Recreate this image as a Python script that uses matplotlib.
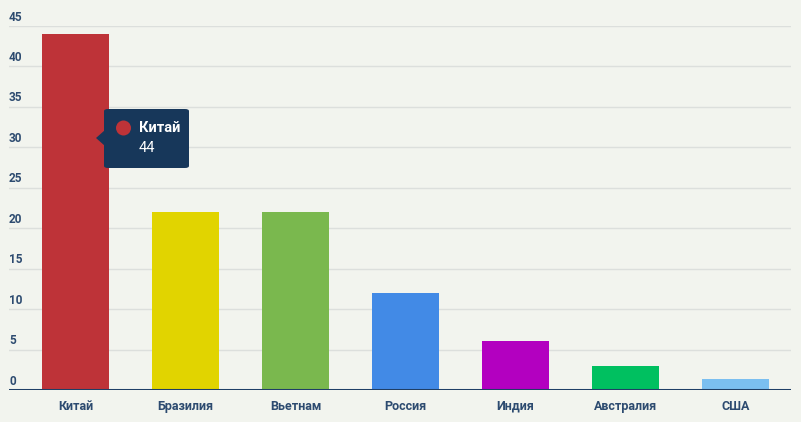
import matplotlib.pyplot as plt
from matplotlib.patches import FancyBboxPatch, Polygon, Ellipse

countries = ["Китай", "Бразилия", "Вьетнам", "Россия", "Индия", "Австралия", "США"]
values = [44, 22, 22, 12, 6, 3, 1.4]
colors = ["#be3338", "#e1d400", "#7ab84e", "#428ae6", "#b300c0", "#00c060", "#7bbff0"]
yticks = [0, 5, 10, 15, 20, 25, 30, 35, 40, 45]

W, H = 801, 422
bg = "#f2f4ee"
txt = "#2d4b70"

plt.rcParams["font.family"] = ["Roboto", "DejaVu Sans"]

fig = plt.figure(figsize=(W / 100, H / 100), dpi=100, facecolor=bg)
ax = fig.add_axes([9 / W, 32 / H, 782 / W, 364 / H], facecolor=bg)

x = list(range(len(countries)))
ax.bar(x, values, width=67 / 110, color=colors, zorder=2)

ax.set_xlim(-0.5 - 11.5 / 110, 6.5 + 0.5 / 110)
ax.set_ylim(0, 45)

# grid lines
for t in yticks[1:]:
    ax.axhline(t, color="#dcdfdc", lw=1, zorder=1)
ax.axhline(0, color="#1f3f66", lw=2.2, zorder=3)

for s in ax.spines.values():
    s.set_visible(False)
ax.set_yticks([])
ax.set_xticks(x)
ax.set_xticklabels(countries, fontsize=9, fontweight="bold", color=txt)
ax.tick_params(axis="x", length=0, pad=7)

# y labels sit just above the grid lines
for t in yticks:
    ax.text(0, t + 0.3, str(t), transform=ax.get_yaxis_transform(), ha="left", va="bottom",
            fontsize=8.5, fontweight="bold", color=txt)

# tooltip
def px(xp, yp):
    return (xp / W, 1 - yp / H)

box_col = "#17375a"
x0, y0 = px(104, 168)
bw, bh = 85 / W, 59 / H
fig.patches.append(FancyBboxPatch((x0, y0), bw, bh, boxstyle="round,pad=0,rounding_size=0.005",
                                  transform=fig.transFigure, fc=box_col, ec="none", zorder=10))
fig.patches.append(Polygon([px(105, 130), px(96, 138), px(105, 146)], closed=True,
                           transform=fig.transFigure, fc=box_col, ec="none", zorder=10))
fig.patches.append(Ellipse(px(123.5, 128), 15 / W, 15 / H, transform=fig.transFigure,
                           fc="#be3338", ec="none", zorder=11))
fig.text(*px(139, 128), "Китай", color="white", fontsize=10.5, fontweight="bold",
         va="center", ha="left", zorder=12)
fig.text(*px(139, 148), "44", color="white", fontsize=10.5, va="center", ha="left", zorder=12)

fig.savefig("out.png", dpi=100, facecolor=bg)
